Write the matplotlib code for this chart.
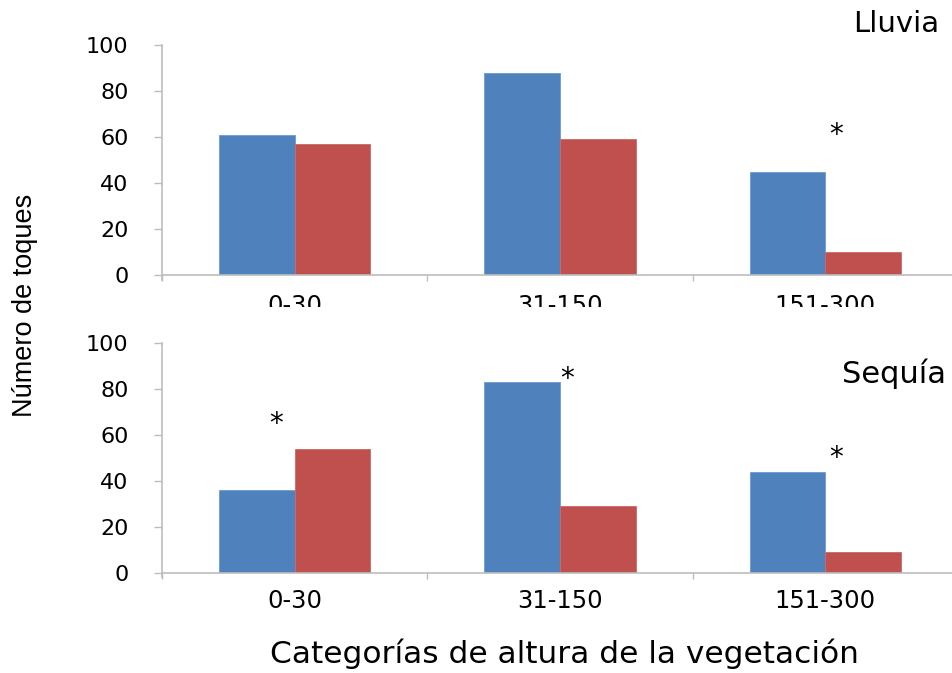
import numpy as np
import matplotlib.pyplot as plt
from matplotlib.transforms import Bbox, TransformedBbox

# conteos de toques por categoria de altura (azul / rojo)
categorias = ['0-30', '31-150', '151-300']
lluvia_azul = [61, 88, 45]
lluvia_rojo = [57, 59, 10]
sequia_azul = [36, 83, 44]
sequia_rojo = [54, 29, 9]

# asteriscos de significancia: (posicion x en categorias, altura)
lluvia_ast_x = [2.04]
lluvia_ast_y = [61]
sequia_ast_x = [-0.07, 1.025, 2.04]
sequia_ast_y = [65, 84.5, 50]

azul = '#4F81BD'
rojo = '#C0504D'
gris = '#bdbdbd'
ancho = 1 / 3.5

plt.rcParams['font.family'] = 'DejaVu Sans'

fig = plt.figure(figsize=(9.52, 6.73), dpi=100)
W, H = 952.0, 673.0


def panel(y_top, y_bot, v_azul, v_rojo, ast_x, ast_y, pad_x):
    ax = fig.add_axes([162 / W, 1 - y_bot / H, 796 / W, (y_bot - y_top) / H])
    x = np.arange(len(categorias))
    ax.bar(x - ancho / 2, v_azul, ancho, color=azul, edgecolor='#6f9bd0', linewidth=0.6)
    ax.bar(x + ancho / 2, v_rojo, ancho, color=rojo, edgecolor='#c96a67', linewidth=0.6)
    for xa, ya in zip(ast_x, ast_y):
        ax.text(xa, ya, '*', ha='center', va='center', fontsize=20)
    ax.set_xlim(-0.5, 2.5)
    ax.set_ylim(0, 100)
    ax.set_yticks([0, 20, 40, 60, 80, 100])
    ax.set_xticks(x)
    ax.set_xticklabels(categorias)
    ax.set_xticks([-0.5, 0.5, 1.5, 2.5], minor=True)
    ax.tick_params(axis='x', which='major', length=0, pad=pad_x, labelsize=17.5)
    ax.tick_params(axis='x', which='minor', length=4.5, width=1, color=gris, direction='out')
    ax.tick_params(axis='y', length=6, width=1, color=gris, pad=18, labelsize=16)
    for s in ['top', 'right']:
        ax.spines[s].set_visible(False)
    for s in ['left', 'bottom']:
        ax.spines[s].set_color(gris)
        ax.spines[s].set_linewidth(1.2)
    ax.spines['left'].set_bounds(-2.0, 100)
    return ax


ax1 = panel(45, 275, lluvia_azul, lluvia_rojo, lluvia_ast_x, lluvia_ast_y, 13.5)
ax2 = panel(343.3, 572.7, sequia_azul, sequia_rojo, sequia_ast_x, sequia_ast_y, 12)

# las etiquetas del panel superior quedan cortadas por abajo
corte = TransformedBbox(Bbox([[0, 1 - 307 / H], [1, 1]]), fig.transFigure)
for lab in ax1.get_xticklabels():
    lab.set_clip_box(corte)
    lab.set_clip_on(True)

fig.text(853 / W, 1 - 32 / H, 'Lluvia', ha='left', va='baseline', fontsize=21)
fig.text(842 / W, 1 - 383 / H, 'Sequía', ha='left', va='baseline', fontsize=22)

fig.text(564 / W, 1 - 663 / H, 'Categorías de altura de la vegetación',
         ha='center', va='baseline', fontsize=22.5)
fig.text(25 / W, 1 - 305 / H, 'Número de toques', rotation=90,
         ha='center', va='center', fontsize=19.5, family='Liberation Sans')

plt.savefig('out.png', dpi=100)
